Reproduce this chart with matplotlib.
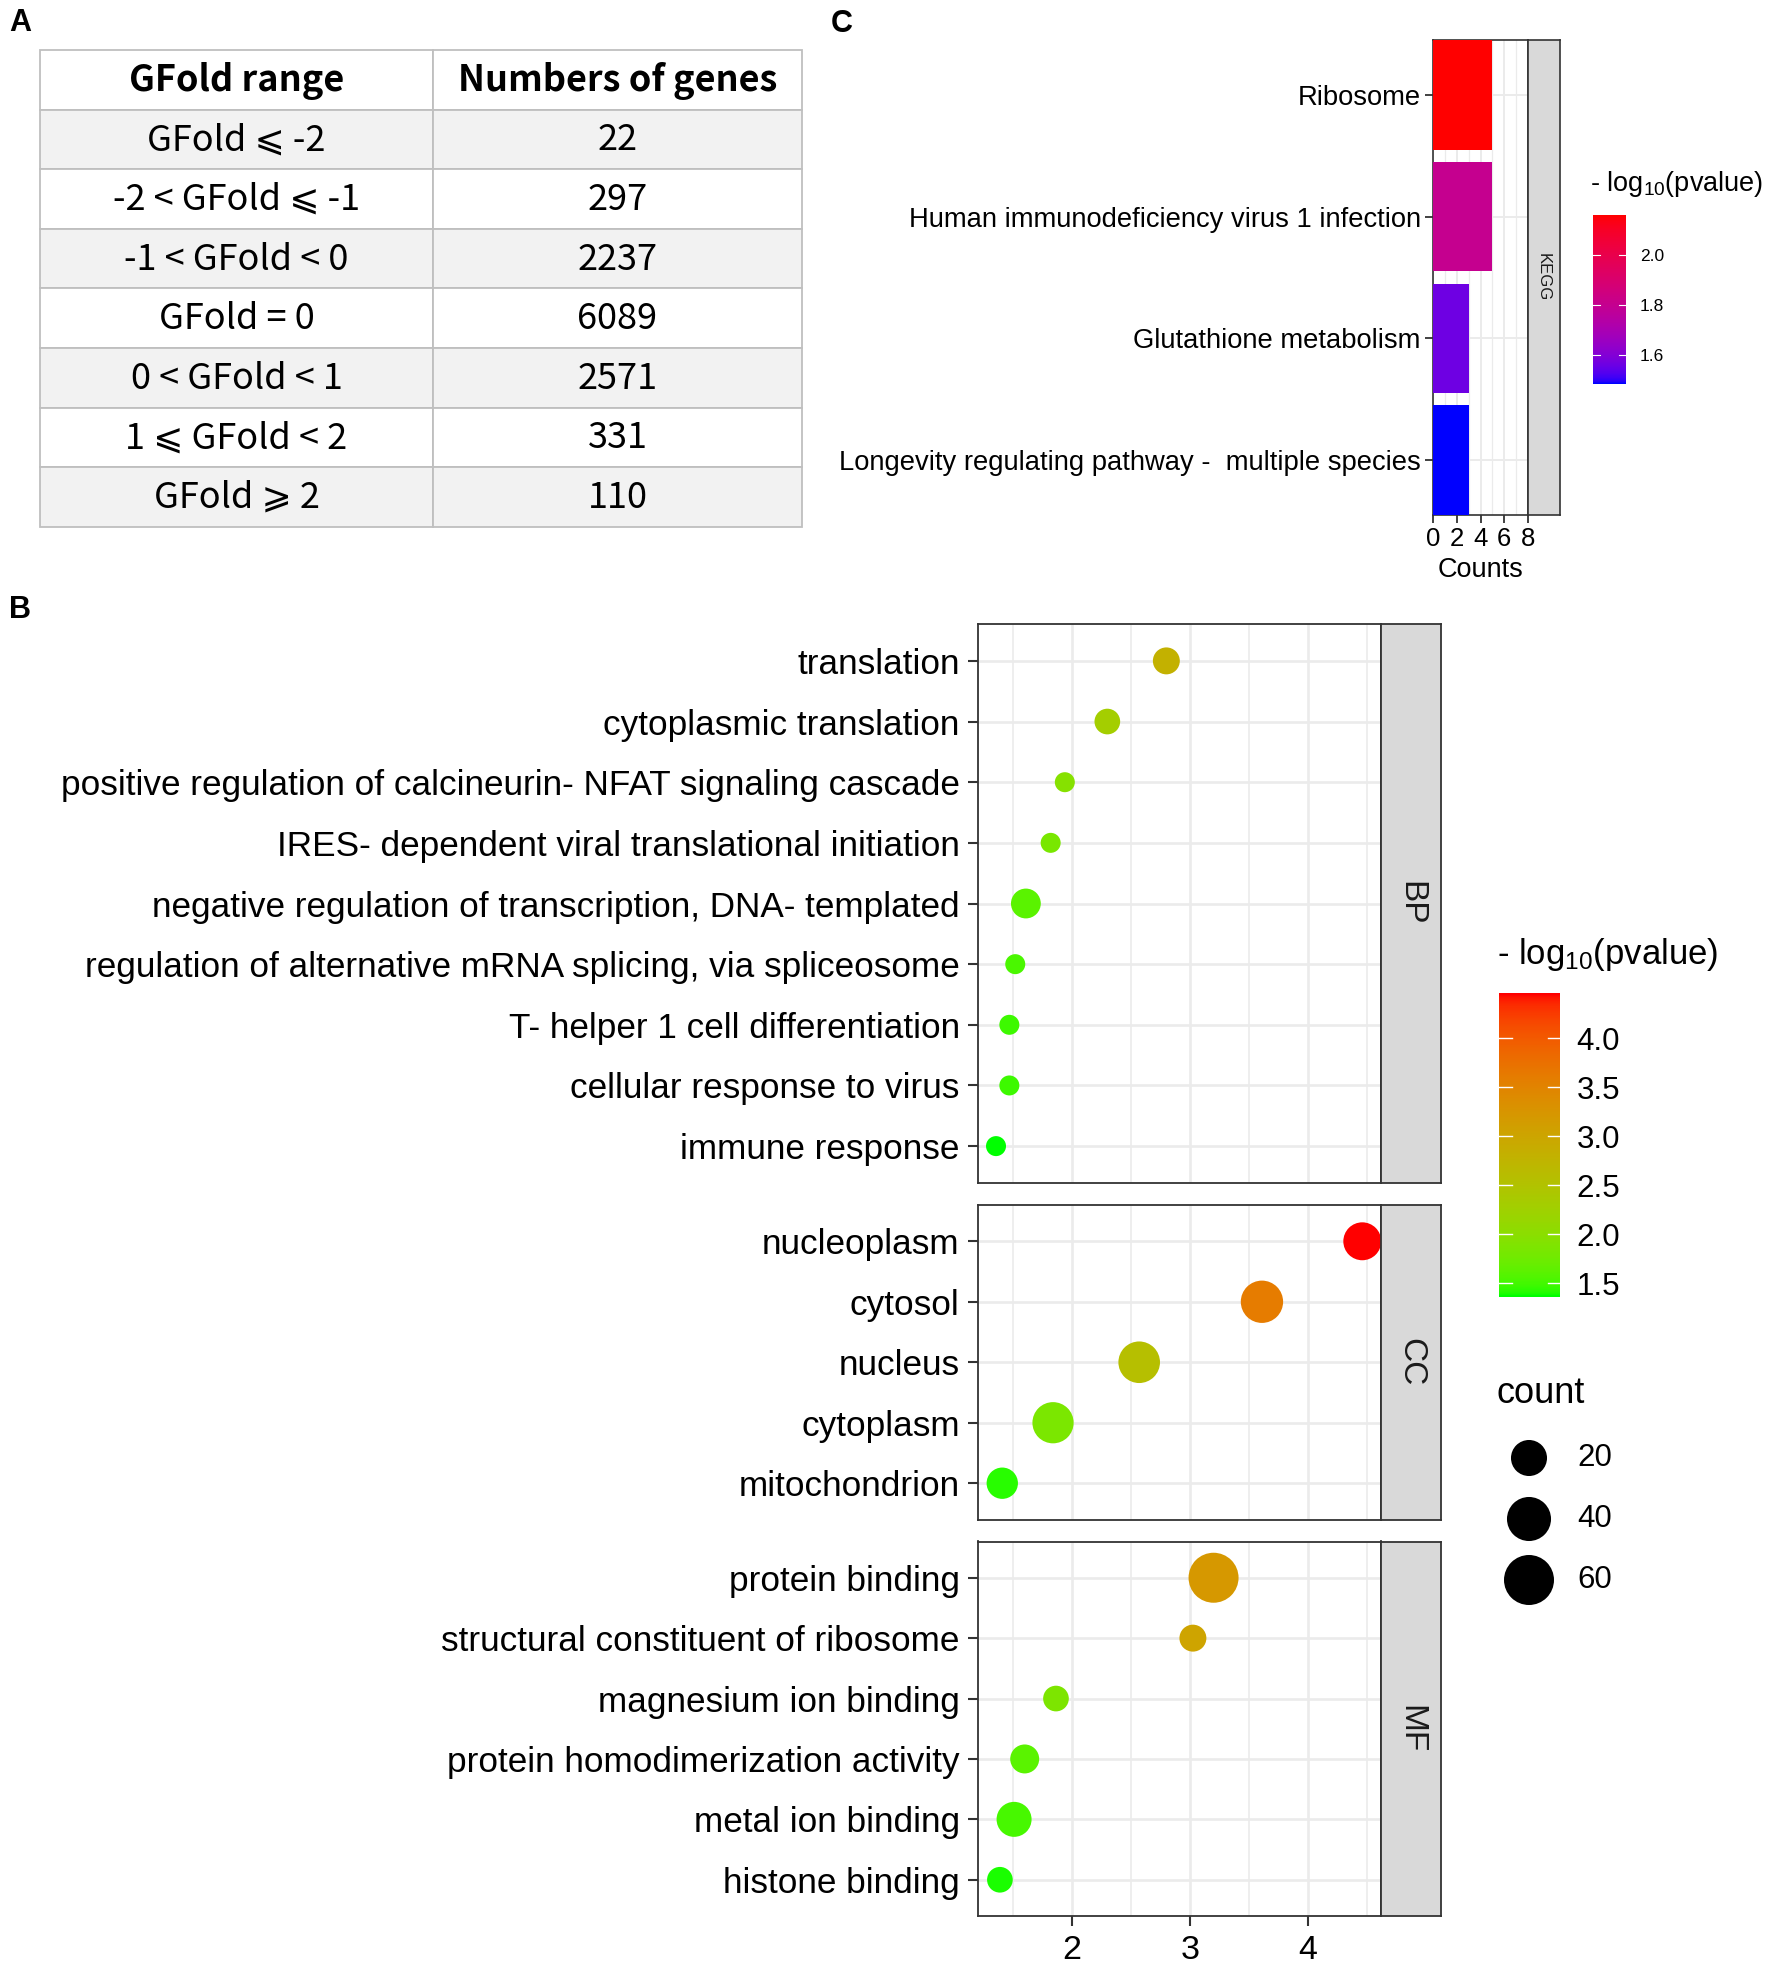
import numpy as np
import matplotlib
matplotlib.use('Agg')
import matplotlib.pyplot as plt
from matplotlib.colors import ListedColormap, Normalize
from matplotlib.patches import Rectangle

W, H = 1772, 1969
DPI = 100

# ---------------- data ----------------
table_header = ["GFold range", "Numbers of genes"]
gfold_ranges = ["GFold ⩽ -2", "-2 < GFold ⩽ -1", "-1 < GFold < 0", "GFold = 0",
                "0 < GFold < 1", "1 ⩽ GFold < 2", "GFold ⩾ 2"]
gene_numbers = [22, 297, 2237, 6089, 2571, 331, 110]

bp_terms = ["translation", "cytoplasmic translation",
            "positive regulation of calcineurin- NFAT signaling cascade",
            "IRES- dependent viral translational initiation",
            "negative regulation of transcription, DNA- templated",
            "regulation of alternative mRNA splicing, via spliceosome",
            "T- helper 1 cell differentiation", "cellular response to virus",
            "immune response"]
bp_neglogp = [2.80, 2.30, 1.94, 1.82, 1.61, 1.52, 1.47, 1.47, 1.357]
bp_count = [7, 6, 4, 4, 10, 4, 4, 4, 4]

cc_terms = ["nucleoplasm", "cytosol", "nucleus", "cytoplasm", "mitochondrion"]
cc_neglogp = [4.46, 3.61, 2.57, 1.84, 1.41]
cc_count = [24, 35, 33, 32, 12]

mf_terms = ["protein binding", "structural constituent of ribosome",
            "magnesium ion binding", "protein homodimerization activity",
            "metal ion binding", "histone binding"]
mf_neglogp = [3.20, 3.025, 1.865, 1.60, 1.51, 1.39]
mf_count = [60, 7, 6, 9, 18, 6]

go_panels = ["BP", "CC", "MF"]
count_legend = [20, 40, 60]
go_color_ticks = [1.5, 2.0, 2.5, 3.0, 3.5, 4.0]
go_x_ticks = [2, 3, 4]

kegg_terms = ["Ribosome", "Human immunodeficiency virus 1 infection",
              "Glutathione metabolism",
              "Longevity regulating pathway -  multiple species"]
kegg_counts = [5, 5, 3, 3]
kegg_neglogp = [2.158, 1.80, 1.56, 1.483]
kegg_color_ticks = [1.6, 1.8, 2.0]
kegg_x_ticks = [0, 2, 4, 6, 8]

# ---------------- helpers ----------------
_M = np.array([[0.4124564, 0.3575761, 0.1804375],
               [0.2126729, 0.7151522, 0.0721750],
               [0.0193339, 0.1191920, 0.9503041]])
_WP = np.array([0.95047, 1.0, 1.08883])


def _to_lab(rgb):
    c = np.asarray(rgb, float)
    lin = np.where(c <= 0.04045, c / 12.92, ((c + 0.055) / 1.055) ** 2.4)
    xyz = _M @ lin / _WP
    f = np.where(xyz > 0.008856, np.cbrt(xyz), 7.787 * xyz + 16 / 116)
    return np.array([116 * f[1] - 16, 500 * (f[0] - f[1]), 200 * (f[1] - f[2])])


def _from_lab(lab):
    L, a, b = lab
    fy = (L + 16) / 116
    f = np.array([fy + a / 500, fy, fy - b / 200])
    xyz = np.where(f ** 3 > 0.008856, f ** 3, (f - 16 / 116) / 7.787) * _WP
    lin = np.clip(np.linalg.inv(_M) @ xyz, 0, 1)
    c = np.where(lin <= 0.0031308, 12.92 * lin, 1.055 * lin ** (1 / 2.4) - 0.055)
    return np.clip(c, 0, 1)


def lab_cmap(c0, c1, n=256):
    l0, l1 = _to_lab(c0), _to_lab(c1)
    return ListedColormap([_from_lab(l0 + (l1 - l0) * t) for t in np.linspace(0, 1, n)])


fig = plt.figure(figsize=(W / DPI, H / DPI), dpi=DPI)
fig.patch.set_facecolor('white')


def add_ax(x0, y0, x1, y1):
    return fig.add_axes([x0 / W, 1 - y1 / H, (x1 - x0) / W, (y1 - y0) / H])


SANS = 'Liberation Sans'
TABFONT = ['Noto Sans CJK SC', 'DejaVu Sans']
plt.rcParams['font.family'] = [SANS, 'DejaVu Sans']
plt.rcParams['mathtext.fontset'] = 'custom'
plt.rcParams['mathtext.rm'] = SANS
plt.rcParams['mathtext.it'] = SANS
BORDER = '#333333'
GRID = '#EBEBEB'

# background axes in pixel coordinates
bg = fig.add_axes([0, 0, 1, 1])
bg.set_xlim(0, W)
bg.set_ylim(H, 0)
bg.axis('off')

# panel letters
for lab, (x, y) in zip(["A", "B", "C"], [(9, 8), (9, 595), (831, 9)]):
    bg.text(x, y, lab, fontsize=22, fontweight='bold', ha='left', va='top', family=SANS)

# ---------------- panel A: table ----------------
tx = [40, 433, 802]
ty0, rowh = 50, 59.6
nrows = len(gfold_ranges) + 1
for r in range(nrows):
    y = ty0 + r * rowh
    face = '#F2F2F2' if (r % 2 == 1) else 'white'
    for ci in range(2):
        bg.add_patch(Rectangle((tx[ci], y), tx[ci + 1] - tx[ci], rowh,
                               facecolor=face, edgecolor='#BFBFBF', lw=1.3))
    if r == 0:
        vals = table_header
        weight = 'bold'
    else:
        vals = [gfold_ranges[r - 1], str(gene_numbers[r - 1])]
        weight = 'normal'
    for ci in range(2):
        bg.text((tx[ci] + tx[ci + 1]) / 2, y + rowh / 2 + 1, vals[ci], ha='center',
                va='center', fontsize=26, fontweight=weight, family=TABFONT,
                color='black')

# ---------------- panel B: GO dot plot ----------------
cmap_go = lab_cmap([0, 1, 0], [1, 0, 0])
all_p = bp_neglogp + cc_neglogp + mf_neglogp
vmin, vmax = min(all_p), max(all_p)
span = vmax - vmin
xlim = (vmin - 0.05 * span, vmax + 0.05 * span)
cmin, cmax = 4, 60


def dot_size(c):
    c = np.asarray(c, float)
    d_px = 20 + 30 * np.sqrt(np.clip((c - cmin) / (cmax - cmin), 0, None))
    return (d_px * 72 / DPI) ** 2


XL, XR, SR = 977.7, 1380.6, 1440.5
rows_y = [(624.5, 1182.5), (1205, 1519.5), (1541.5, 1916)]
datasets = [(bp_terms, bp_neglogp, bp_count), (cc_terms, cc_neglogp, cc_count),
            (mf_terms, mf_neglogp, mf_count)]
for i, ((terms, pv, cnt), (y0, y1), name) in enumerate(zip(datasets, rows_y, go_panels)):
    ax = add_ax(XL, y0, XR, y1)
    n = len(terms)
    ypos = np.arange(n)
    ax.scatter(pv, ypos, s=dot_size(cnt), c=pv, cmap=cmap_go, vmin=vmin, vmax=vmax,
               edgecolors='none', zorder=3)
    ax.set_xlim(*xlim)
    ax.set_ylim(n - 1 + 0.6, -0.6)
    ax.set_yticks(ypos)
    ax.set_yticklabels(terms, fontsize=25.3, color='black')
    ax.set_xticks(go_x_ticks)
    ax.set_xticks([1.5, 2.5, 3.5, 4.5], minor=True)
    ax.grid(which='major', color=GRID, lw=1.9, zorder=0)
    ax.grid(which='minor', axis='x', color=GRID, lw=1.2, zorder=0)
    ax.set_axisbelow(True)
    ax.tick_params(which='minor', length=0)
    ax.tick_params(axis='y', length=7, width=1.5, color=BORDER, pad=6)
    if i == 2:
        ax.set_xticklabels([str(t) for t in go_x_ticks], fontsize=24.5, color='black')
        ax.tick_params(axis='x', length=7, width=1.5, color=BORDER, pad=7)
    else:
        ax.tick_params(axis='x', length=0, labelbottom=False)
    for sp in ax.spines.values():
        sp.set_color(BORDER)
        sp.set_linewidth(1.3)
    st = add_ax(XR, y0, SR, y1)
    st.set_facecolor('#D9D9D9')
    st.set_xticks([])
    st.set_yticks([])
    for sp in st.spines.values():
        sp.set_color(BORDER)
        sp.set_linewidth(1.3)
    st.text(0.5, 0.5, name, rotation=-90, ha='center', va='center', fontsize=24,
            color='#1A1A1A', transform=st.transAxes)

# colour legend B
cb = add_ax(1499.4, 993.5, 1560, 1297)
grad = np.linspace(vmin, vmax, 300)[:, None]
cb.imshow(grad, aspect='auto', cmap=cmap_go, vmin=vmin, vmax=vmax, origin='lower',
          extent=[0, 1, vmin, vmax])
cb.set_xlim(0, 1)
cb.set_ylim(vmin, vmax)
for t in go_color_ticks:
    cb.plot([0, 0.2], [t, t], color='white', lw=1.0)
    cb.plot([0.8, 1], [t, t], color='white', lw=1.0)
cb.yaxis.tick_right()
cb.set_yticks(go_color_ticks)
cb.set_yticklabels([f"{t:.1f}" for t in go_color_ticks], fontsize=22.5)
cb.tick_params(axis='y', length=0, pad=12)
cb.set_xticks([])
for sp in cb.spines.values():
    sp.set_visible(False)
bg.text(1497, 954, r"- log$_{10}$(pvalue)", fontsize=25, ha='left', va='center')

# size legend B
bg.text(1497, 1393, "count", fontsize=26, ha='left', va='center')
for c, y in zip(count_legend, [1458, 1519, 1580]):
    bg.scatter([1529], [y], s=dot_size(c), color='black', edgecolors='none')
    bg.text(1577, y, str(c), fontsize=22.5, ha='left', va='center')

# ---------------- panel C: KEGG bars ----------------
cmap_k = lab_cmap([0, 0, 1], [1, 0, 0])
kmin, kmax = min(kegg_neglogp), max(kegg_neglogp)
normk = Normalize(kmin, kmax)
axc = add_ax(1433.3, 40, 1527.7, 515)
yk = np.arange(len(kegg_terms))
axc.barh(yk, kegg_counts, height=0.9, color=cmap_k(normk(kegg_neglogp)), zorder=3)
axc.set_xlim(0, 8)
axc.set_ylim(len(kegg_terms) - 1 + 0.45, -0.45)
axc.set_yticks(yk)
axc.set_yticklabels(kegg_terms, fontsize=19.7, color='black')
axc.set_xticks(kegg_x_ticks)
axc.set_xticklabels([str(t) for t in kegg_x_ticks], fontsize=18.5, color='black')
axc.set_xticks([1, 3, 5, 7], minor=True)
axc.grid(which='major', color=GRID, lw=1.4, zorder=0)
axc.grid(which='minor', axis='x', color=GRID, lw=0.9, zorder=0)
axc.set_axisbelow(True)
axc.tick_params(which='minor', length=0)
axc.tick_params(axis='both', length=6, width=1.3, color=BORDER, pad=3)
axc.set_xlabel("Counts", fontsize=19.5, labelpad=4)
for sp in axc.spines.values():
    sp.set_color(BORDER)
    sp.set_linewidth(1.2)
stc = add_ax(1527.7, 40, 1559.5, 515)
stc.set_facecolor('#D9D9D9')
stc.set_xticks([])
stc.set_yticks([])
for sp in stc.spines.values():
    sp.set_color(BORDER)
    sp.set_linewidth(1.2)
stc.text(0.5, 0.5, "KEGG", rotation=-90, ha='center', va='center', fontsize=12,
         color='#1A1A1A', transform=stc.transAxes)

cbk = add_ax(1593, 215.5, 1626, 384)
gk = np.linspace(kmin, kmax, 300)[:, None]
cbk.imshow(gk, aspect='auto', cmap=cmap_k, vmin=kmin, vmax=kmax, origin='lower',
           extent=[0, 1, kmin, kmax])
cbk.set_xlim(0, 1)
cbk.set_ylim(kmin, kmax)
for t in kegg_color_ticks:
    cbk.plot([0, 0.2], [t, t], color='white', lw=0.8)
    cbk.plot([0.8, 1], [t, t], color='white', lw=0.8)
cbk.yaxis.tick_right()
cbk.set_yticks(kegg_color_ticks)
cbk.set_yticklabels([f"{t:.1f}" for t in kegg_color_ticks], fontsize=12.5)
cbk.tick_params(axis='y', length=0, pad=10)
cbk.set_xticks([])
for sp in cbk.spines.values():
    sp.set_visible(False)
bg.text(1590, 184, r"- log$_{10}$(pvalue)", fontsize=19.5, ha='left', va='center')

fig.savefig("out.png", dpi=DPI)
